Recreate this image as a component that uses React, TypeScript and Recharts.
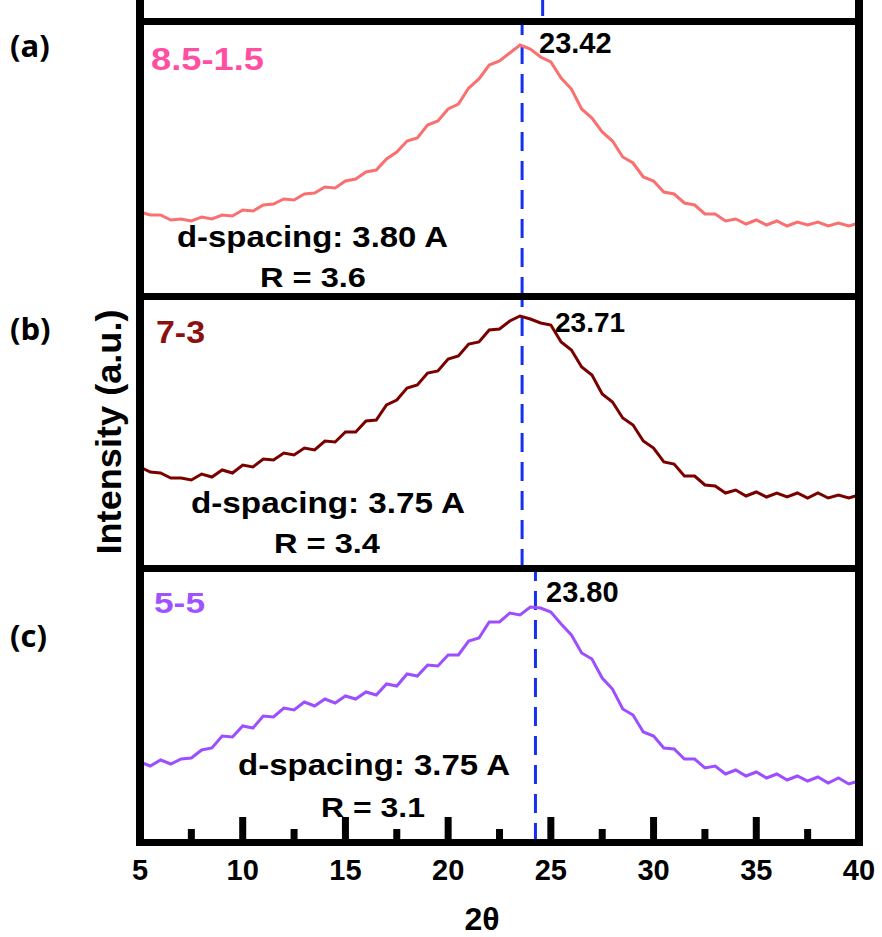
import React from 'react';
import { LineChart, Line, XAxis, YAxis, ReferenceLine } from 'recharts';

// 2θ grid shared by the three patterns
const twoTheta = [
  5, 5.5, 6, 6.5, 7, 7.5, 8, 8.5, 9, 9.5, 10, 10.5, 11, 11.5, 12, 12.5, 13, 13.5, 14, 14.5,
  15, 15.5, 16, 16.5, 17, 17.5, 18, 18.5, 19, 19.5, 20, 20.5, 21, 21.5, 22, 22.5, 23, 23.5, 24, 24.5,
  25, 25.5, 26, 26.5, 27, 27.5, 28, 28.5, 29, 29.5, 30, 30.5, 31, 31.5, 32, 32.5, 33, 33.5, 34, 34.5,
  35, 35.5, 36, 36.5, 37, 37.5, 38, 38.5, 39, 39.5, 40,
];

// (a) 8.5-1.5
const intensityA = [
  84, 81, 81, 76, 77, 75, 79, 77, 81, 80, 86, 85, 91, 92, 97, 96, 102, 103, 109, 108,
  115, 117, 124, 126, 137, 144, 155, 158, 171, 175, 187, 192, 208, 217, 231, 235, 243, 251, 247, 239,
  234, 218, 207, 187, 178, 164, 155, 139, 133, 119, 115, 104, 102, 93, 91, 82, 82, 75, 77, 72,
  76, 71, 75, 70, 74, 71, 74, 70, 73, 70, 73,
];

// (b) 7-3
const intensityB = [
  101, 96, 95, 90, 90, 88, 94, 91, 98, 95, 103, 101, 109, 108, 115, 113, 120, 118, 127, 126,
  136, 136, 147, 148, 163, 168, 180, 183, 195, 197, 209, 212, 224, 226, 238, 239, 247, 252, 249, 245,
  243, 226, 218, 201, 193, 174, 166, 150, 143, 127, 120, 106, 104, 92, 92, 83, 82, 75, 78, 72,
  76, 71, 75, 71, 75, 70, 75, 70, 73, 70, 73,
];

// (c) 5-5
const intensityC = [
  80, 76, 82, 78, 83, 84, 92, 94, 106, 105, 116, 114, 126, 125, 134, 132, 140, 136, 143, 139,
  146, 143, 150, 147, 158, 156, 168, 166, 177, 176, 187, 187, 201, 204, 220, 220, 229, 227, 235, 234,
  230, 218, 207, 189, 183, 164, 153, 133, 127, 110, 106, 94, 93, 83, 83, 74, 76, 68, 72, 66,
  70, 64, 68, 62, 66, 61, 65, 59, 64, 58, 61,
];

const axisTicks = [5, 7.5, 10, 12.5, 15, 17.5, 20, 22.5, 25, 27.5, 30, 32.5, 35, 37.5, 40];
const panelTags = ['(a)', '(b)', '(c)'];
const sampleNames = ['8.5-1.5', '7-3', '5-5'];
const peakLabels = ['23.42', '23.71', '23.80'];
const dSpacings = ['3.80', '3.75', '3.75'];
const rValues = ['3.6', '3.4', '3.1'];
const peakMarkers = [23.6, 23.6, 24.25];

const lineColors = ['#FA7070', '#7A0000', '#9D4EFF'];
const nameColors = ['#FF4FA3', '#8B1010', '#A052FF'];
const DASH_BLUE = '#1530F0';
const FONT = "'Liberation Sans', Arial, sans-serif";

const toRows = (vals: number[]) => twoTheta.map((t, i) => ({ t, v: vals[i] }));

const AxisTick = (props: any) => {
  const { x, y, payload } = props;
  const v = payload.value as number;
  const major = v % 5 === 0;
  const len = major ? 22 : 10;
  return (
    <g>
      {v > 5 && v < 40 && (
        <rect x={x - 3.5} y={y - 3 - len} width={7} height={len + 3} fill="#000" />
      )}
      {major && (
        <text x={x} y={y + 38} textAnchor="middle" fontFamily={FONT} fontWeight="bold" fontSize={29} fill="#000">
          {v}
        </text>
      )}
    </g>
  );
};

interface PanelProps {
  vals: number[];
  color: string;
  top: number;
  height: number;
  marginTop: number;
  yMax: number;
  marker: number;
  withAxis?: boolean;
  stub?: number;
}

function Panel({ vals, color, top, height, marginTop, yMax, marker, withAxis, stub }: PanelProps) {
  return (
    <div style={{ position: 'absolute', left: 0, top }}>
      <LineChart
        width={882}
        height={height}
        data={toRows(vals)}
        margin={{ top: marginTop, right: 23, bottom: 0, left: 140 }}
      >
        <XAxis
          dataKey="t"
          type="number"
          domain={[5, 40]}
          ticks={axisTicks}
          interval={0}
          hide={!withAxis}
          height={withAxis ? 95 : 0}
          axisLine={false}
          tickLine={false}
          tickSize={0}
          tickMargin={0}
          tick={<AxisTick />}
        />
        <YAxis hide domain={[0, yMax]} allowDataOverflow />
        <ReferenceLine x={marker} stroke={DASH_BLUE} strokeWidth={3} strokeDasharray="19 10" />
        {stub !== undefined && (
          <ReferenceLine
            segment={[{ x: stub, y: yMax + 5 }, { x: stub, y: yMax + marginTop }]}
            stroke={DASH_BLUE}
            strokeWidth={3}
            ifOverflow="visible"
          />
        )}
        <Line
          type="linear"
          dataKey="v"
          stroke={color}
          strokeWidth={3}
          dot={false}
          isAnimationActive={false}
        />
      </LineChart>
    </div>
  );
}

const bar = (left: number, top: number, width: number, height: number) => (
  <div style={{ position: 'absolute', left, top, width, height, background: '#000' }} />
);

export default function App() {
  const txt = { fontFamily: FONT, fontWeight: 'bold' as const, fill: '#000' };
  const tag = { fontFamily: "'Open Sans', sans-serif", fontWeight: 'bold' as const, fontSize: 31, fill: '#000' };
  return (
    <div style={{ position: 'absolute', left: 0, top: 0, width: 882, height: 937, background: '#fff', overflow: 'hidden' }}>
      <Panel vals={intensityA} color={lineColors[0]} top={0} height={296} marginTop={21} yMax={275} marker={peakMarkers[0]} stub={24.6} />
      <Panel vals={intensityB} color={lineColors[1]} top={296} height={272} marginTop={0} yMax={272} marker={peakMarkers[1]} />
      <Panel vals={intensityC} color={lineColors[2]} top={568} height={369} marginTop={0} yMax={274} marker={peakMarkers[2]} withAxis />

      {/* frame */}
      {bar(136, 0, 8, 846)}
      {bar(855, 0, 8, 846)}
      {bar(136, 18, 727, 7)}
      {bar(136, 293, 727, 7)}
      {bar(136, 565, 727, 7)}
      {bar(136, 839, 727, 7)}

      <svg width={882} height={937} style={{ position: 'absolute', left: 0, top: 0, pointerEvents: 'none' }}>
        <text x={10} y={57} {...tag}>{panelTags[0]}</text>
        <text x={10} y={340} {...tag}>{panelTags[1]}</text>
        <text x={10} y={647} {...tag}>{panelTags[2]}</text>

        <text transform="translate(121,432) rotate(-90)" textAnchor="middle" fontSize={35} textLength={245} lengthAdjust="spacingAndGlyphs" {...txt}>
          Intensity (a.u.)
        </text>

        <text x={151} y={70} fontSize={32} textLength={113} lengthAdjust="spacingAndGlyphs" {...txt} fill={nameColors[0]}>{sampleNames[0]}</text>
        <text x={156} y={343} fontSize={32} textLength={49} lengthAdjust="spacingAndGlyphs" {...txt} fill={nameColors[1]}>{sampleNames[1]}</text>
        <text x={154} y={613} fontSize={30} textLength={51} lengthAdjust="spacingAndGlyphs" {...txt} fill={nameColors[2]}>{sampleNames[2]}</text>

        <text x={539} y={53} fontSize={29} {...txt}>{peakLabels[0]}</text>
        <text x={555} y={332} fontSize={28} {...txt}>{peakLabels[1]}</text>
        <text x={546} y={602} fontSize={29} {...txt}>{peakLabels[2]}</text>

        <text x={177} y={247} fontSize={30} textLength={271} lengthAdjust="spacingAndGlyphs" {...txt}>{`d-spacing: ${dSpacings[0]} A`}</text>
        <text x={260} y={287} fontSize={28} textLength={106} lengthAdjust="spacingAndGlyphs" {...txt}>{`R = ${rValues[0]}`}</text>
        <text x={191} y={513} fontSize={30} textLength={274} lengthAdjust="spacingAndGlyphs" {...txt}>{`d-spacing: ${dSpacings[1]} A`}</text>
        <text x={274} y={553} fontSize={28} textLength={106} lengthAdjust="spacingAndGlyphs" {...txt}>{`R = ${rValues[1]}`}</text>
        <text x={238} y={775} fontSize={30} textLength={272} lengthAdjust="spacingAndGlyphs" {...txt}>{`d-spacing: ${dSpacings[2]} A`}</text>
        <text x={321} y={817} fontSize={28} textLength={104} lengthAdjust="spacingAndGlyphs" {...txt}>{`R = ${rValues[2]}`}</text>

        <text x={482} y={930} textAnchor="middle" fontSize={32} {...txt}>2θ</text>
      </svg>
    </div>
  );
}
